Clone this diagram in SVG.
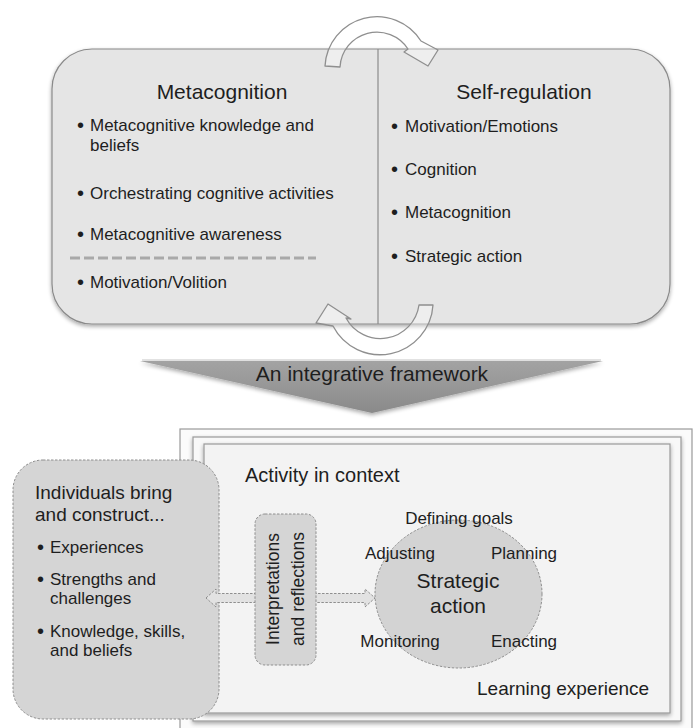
<svg xmlns="http://www.w3.org/2000/svg" width="698" height="728" viewBox="0 0 698 728">
<defs>
<style>
text{font-family:"Liberation Sans",Arial,sans-serif;fill:#1e1e1e}
.h{font-size:21px;text-anchor:middle}
.b{font-size:17px}
.u{font-size:20px}
.c{font-size:17px;text-anchor:middle}
.dash{stroke:#8e8e8e;stroke-width:1;stroke-dasharray:2.5 1.5}
.cyc{fill:#ffffff;fill-opacity:0.35;stroke:#8f8f8f;stroke-width:1.3;stroke-linejoin:round}
.frame{stroke:#9a9a9a;stroke-width:1.2}
</style>
<filter id="sh" x="-5%" y="-5%" width="110%" height="115%">
<feGaussianBlur in="SourceAlpha" stdDeviation="2"/>
<feOffset dx="0" dy="2" result="o"/>
<feComponentTransfer><feFuncA type="linear" slope="0.35"/></feComponentTransfer>
<feMerge><feMergeNode/><feMergeNode in="SourceGraphic"/></feMerge>
</filter>
<linearGradient id="tri" x1="0" y1="0" x2="0" y2="1">
<stop offset="0" stop-color="#a3a3a3"/>
<stop offset="1" stop-color="#8a8a8a"/>
</linearGradient>
</defs>
<rect width="698" height="728" fill="#ffffff"/>

<g id="top-box">
<rect x="52" y="49" width="618" height="275" rx="40" fill="#e5e5e5" stroke="#8a8a8a" stroke-width="1.2" filter="url(#sh)"/>
<line x1="378" y1="49" x2="378" y2="324" stroke="#8a8a8a" stroke-width="1.2"/>
</g>

<g id="metacognition">
<text class="h" x="222" y="99">Metacognition</text>
<text class="u" x="77" y="132">•</text><text class="b" x="90" y="131">Metacognitive knowledge and</text>
<text class="b" x="90" y="151">beliefs</text>
<text class="u" x="77" y="200">•</text><text class="b" x="90" y="199">Orchestrating cognitive activities</text>
<text class="u" x="77" y="241">•</text><text class="b" x="90" y="240">Metacognitive awareness</text>
<line x1="70" y1="258" x2="316" y2="258" stroke="#a9a9a9" stroke-width="3" stroke-dasharray="10 4"/>
<text class="u" x="77" y="289">•</text><text class="b" x="90" y="288">Motivation/Volition</text>
</g>

<g id="self-regulation">
<text class="h" x="524" y="99">Self-regulation</text>
<text class="u" x="391" y="133">•</text><text class="b" x="405" y="132">Motivation/Emotions</text>
<text class="u" x="391" y="176">•</text><text class="b" x="405" y="175">Cognition</text>
<text class="u" x="391" y="219">•</text><text class="b" x="405" y="218">Metacognition</text>
<text class="u" x="391" y="263">•</text><text class="b" x="405" y="262">Strategic action</text>
</g>

<g id="cycle-arrows">
<path class="cyc" d="M325 66 A52 52 0 0 1 421 41 L438 50 L428 66 L404 52 L408 49 A37 37 0 0 0 340 67 Z"/>
<path class="cyc" d="M433 305 A53 53 0 0 1 333 326 L316 323 L328 304 L351 319 L346 318 A39 39 0 0 0 419 305 Z"/>
</g>

<g id="framework-arrow">
<polygon points="140,361 603,361 372,413" fill="url(#tri)" filter="url(#sh)"/>
<line x1="142" y1="360" x2="601" y2="360" stroke="#d8d8d8" stroke-width="1.5"/>
<text x="372" y="381" style="font-size:21px;text-anchor:middle">An integrative framework</text>
</g>

<g id="learning-experience">
<rect class="frame" x="180" y="429" width="512" height="310" fill="#fbfbfb"/>
<rect class="frame" x="193" y="437" width="488" height="284" fill="#f8f8f8" filter="url(#sh)"/>
<rect class="frame" x="204" y="444" width="466" height="269" fill="#f3f3f3" filter="url(#sh)"/>
<text x="245" y="482" style="font-size:20px">Activity in context</text>
<text x="477" y="695" style="font-size:19px">Learning experience</text>
</g>

<g id="individuals">
<rect class="dash" x="13" y="460" width="206" height="259" rx="30" fill="#d5d5d5"/>
<text x="35" y="499" style="font-size:19px">Individuals bring</text>
<text x="35" y="521" style="font-size:19px">and construct...</text>
<text class="u" x="37" y="554">•</text><text class="b" x="50" y="553">Experiences</text>
<text class="u" x="37" y="586">•</text><text class="b" x="50" y="585">Strengths and</text>
<text class="b" x="50" y="604">challenges</text>
<text class="u" x="37" y="638">•</text><text class="b" x="50" y="637">Knowledge, skills,</text>
<text class="b" x="50" y="656">and beliefs</text>
</g>

<g id="connectors">
<path class="dash" d="M206 598 L216 589 L216 593.5 L365 593.5 L365 589 L375 598 L365 607 L365 602.5 L216 602.5 L216 607 Z" fill="#e2e2e2"/>
</g>

<g id="interpretations">
<rect class="dash" x="255" y="514" width="61" height="151" rx="10" fill="#d5d5d5"/>
<text transform="translate(279,589) rotate(-90)" style="font-size:17.5px;text-anchor:middle">Interpretations</text>
<text transform="translate(304,589) rotate(-90)" style="font-size:17.5px;text-anchor:middle">and reflections</text>
</g>

<g id="strategic-action">
<ellipse class="dash" cx="458.5" cy="594" rx="83.5" ry="74" fill="#d3d3d3"/>
<text class="c" x="459" y="524">Defining goals</text>
<text class="c" x="400" y="559">Adjusting</text>
<text class="c" x="524" y="559">Planning</text>
<text x="458" y="588" style="font-size:21px;text-anchor:middle">Strategic</text>
<text x="458" y="613" style="font-size:21px;text-anchor:middle">action</text>
<text class="c" x="400" y="647">Monitoring</text>
<text class="c" x="524" y="647">Enacting</text>
</g>
</svg>
